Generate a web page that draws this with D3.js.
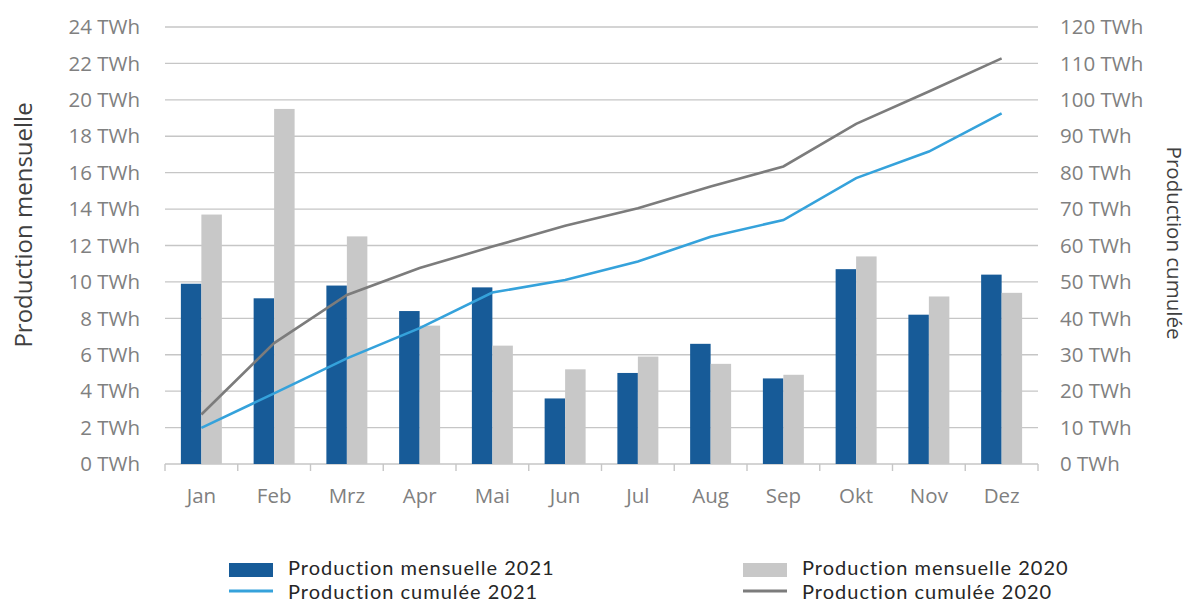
<!DOCTYPE html>
<html>
<head>
<meta charset="utf-8">
<script src="https://cdn.jsdelivr.net/npm/d3@7"></script>
<style>
  html, body { margin: 0; padding: 0; background: #ffffff; }
  svg { display: block; font-family: "Open Sans", "Noto Sans", sans-serif; }
</style>
</head>
<body>
<svg id="chart" width="1190" height="604"></svg>
<script>
// Monthly and cumulative production, 2021 vs 2020
const months = ["Jan", "Feb", "Mrz", "Apr", "Mai", "Jun", "Jul", "Aug", "Sep", "Okt", "Nov", "Dez"];
const monthly2021 = [9.9, 9.1, 9.8, 8.4, 9.7, 3.6, 5.0, 6.6, 4.7, 10.7, 8.2, 10.4];
const monthly2020 = [13.7, 19.5, 12.5, 7.6, 6.5, 5.2, 5.9, 5.5, 4.9, 11.4, 9.2, 9.4];
const cumul2021 = [9.9, 19.4, 29.0, 37.3, 47.1, 50.5, 55.6, 62.4, 67.0, 78.5, 85.8, 96.3];
const cumul2020 = [13.6, 33.2, 46.4, 53.8, 59.7, 65.4, 70.2, 76.2, 81.7, 93.4, 102.3, 111.4];
const leftTicks = [0, 2, 4, 6, 8, 10, 12, 14, 16, 18, 20, 22, 24];
const rightTicks = [0, 10, 20, 30, 40, 50, 60, 70, 80, 90, 100, 110, 120];
const barSeries = ["2021", "2020"];

const colors = {
  bar2021: "#175b98",
  bar2020: "#c8c8c8",
  line2021: "#35a2db",
  line2020: "#7c7c7c",
  grid: "#c6c6c6",
  tick: "#808080",
  title: "#404040",
  legend: "#262626"
};

const svg = d3.select("#chart");
const plot = { left: 165, right: 1038, top: 27, bottom: 464 };

const x = d3.scaleBand().domain(months).range([plot.left, plot.right]).paddingInner(0).paddingOuter(0);
const xSub = d3.scaleBand().domain(barSeries).range([0, x.bandwidth()]).paddingInner(0).paddingOuter(0.775);
const yL = d3.scaleLinear().domain([0, 24]).range([plot.bottom, plot.top]);
const yR = d3.scaleLinear().domain([0, 120]).range([plot.bottom, plot.top]);

// Horizontal gridlines
svg.append("g")
  .selectAll("line")
  .data(leftTicks)
  .join("line")
  .attr("x1", plot.left).attr("x2", plot.right)
  .attr("y1", d => yL(d)).attr("y2", d => yL(d))
  .attr("stroke", colors.grid).attr("stroke-width", 1.4);

// Category tick marks on the baseline
const boundaries = months.map(m => x(m)).concat([plot.right]);
svg.append("g")
  .selectAll("line")
  .data(boundaries)
  .join("line")
  .attr("x1", d => d).attr("x2", d => d)
  .attr("y1", plot.bottom).attr("y2", plot.bottom + 7)
  .attr("stroke", colors.grid).attr("stroke-width", 1.4);

// Left axis labels
svg.append("g")
  .selectAll("text")
  .data(leftTicks)
  .join("text")
  .attr("x", 140).attr("y", d => yL(d))
  .attr("dy", "0.35em")
  .attr("text-anchor", "end")
  .attr("font-size", 20.5)
  .attr("fill", colors.tick)
  .text(d => `${d} TWh`);

// Right axis labels
svg.append("g")
  .selectAll("text")
  .data(rightTicks)
  .join("text")
  .attr("x", 1060).attr("y", d => yR(d))
  .attr("dy", "0.35em")
  .attr("text-anchor", "start")
  .attr("font-size", 20.5)
  .attr("fill", colors.tick)
  .text(d => `${d} TWh`);

// Month labels
svg.append("g")
  .selectAll("text")
  .data(months)
  .join("text")
  .attr("x", d => x(d) + x.bandwidth() / 2)
  .attr("y", 503)
  .attr("text-anchor", "middle")
  .attr("font-size", 20.5)
  .attr("fill", colors.tick)
  .text(d => d);

// Axis titles
svg.append("text")
  .attr("transform", "translate(32,225) rotate(-90)")
  .attr("text-anchor", "middle")
  .attr("font-size", 24)
  .attr("fill", colors.title)
  .text("Production mensuelle");

svg.append("text")
  .attr("transform", "translate(1167,243) rotate(90)")
  .attr("text-anchor", "middle")
  .attr("font-size", 20.5)
  .attr("fill", colors.title)
  .text("Production cumulée");

// Bars
const barData = months.map((m, i) => ({ month: m, values: [
  { key: "2021", value: monthly2021[i] },
  { key: "2020", value: monthly2020[i] }
]}));

const groups = svg.append("g")
  .selectAll("g")
  .data(barData)
  .join("g")
  .attr("transform", d => `translate(${x(d.month)},0)`);

groups.selectAll("rect")
  .data(d => d.values)
  .join("rect")
  .attr("x", d => xSub(d.key))
  .attr("width", xSub.bandwidth())
  .attr("y", d => yL(d.value))
  .attr("height", d => plot.bottom - yL(d.value))
  .attr("fill", d => d.key === "2021" ? colors.bar2021 : colors.bar2020);

// Cumulative lines
const line = d3.line()
  .x((d, i) => x(months[i]) + x.bandwidth() / 2)
  .y(d => yR(d));

svg.append("path")
  .datum(cumul2020)
  .attr("d", line)
  .attr("fill", "none")
  .attr("stroke", colors.line2020)
  .attr("stroke-width", 2.6);

svg.append("path")
  .datum(cumul2021)
  .attr("d", line)
  .attr("fill", "none")
  .attr("stroke", colors.line2021)
  .attr("stroke-width", 2.6);

// Legend
const legendItems = [
  { label: "Production mensuelle 2021", type: "rect", color: colors.bar2021, col: 0, row: 0 },
  { label: "Production cumulée 2021", type: "line", color: colors.line2021, col: 0, row: 1 },
  { label: "Production mensuelle 2020", type: "rect", color: colors.bar2020, col: 1, row: 0 },
  { label: "Production cumulée 2020", type: "line", color: colors.line2020, col: 1, row: 1 }
];
const legendCols = [229, 743];
const legendRows = [575, 599];

const legend = svg.append("g")
  .selectAll("g")
  .data(legendItems)
  .join("g")
  .attr("transform", d => `translate(${legendCols[d.col]},${legendRows[d.row]})`);

legend.filter(d => d.type === "rect")
  .append("rect")
  .attr("x", 0).attr("y", -12)
  .attr("width", 44).attr("height", 14)
  .attr("fill", d => d.color);

legend.filter(d => d.type === "line")
  .append("line")
  .attr("x1", 0).attr("x2", 44)
  .attr("y1", -8).attr("y2", -8)
  .attr("stroke", d => d.color)
  .attr("stroke-width", 3);

legend.append("text")
  .attr("x", 59).attr("y", 0)
  .attr("font-family", "Lato, 'Open Sans', sans-serif")
  .attr("font-size", 20)
  .attr("letter-spacing", 1)
  .attr("fill", colors.legend)
  .text(d => d.label);
</script>
</body>
</html>
